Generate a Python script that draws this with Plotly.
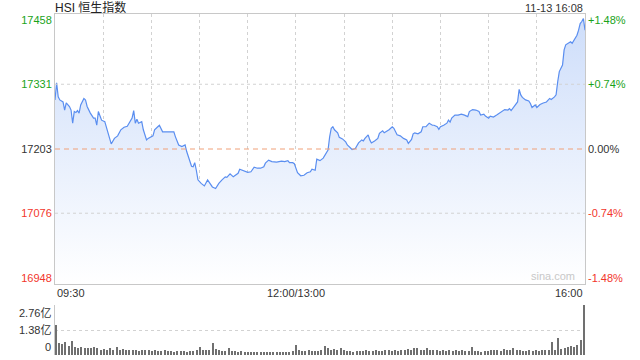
import plotly.graph_objects as go

# ---- data (trading minutes since 09:30, lunch break removed; 150 = 12:00/13:00, 330 = 16:00)
minutes = [0, 1, 2, 3, 5, 6, 7, 9, 10, 11, 12, 13, 14, 15, 16, 18, 19, 20, 22, 24, 25, 26, 27, 28, 29,
           31, 32, 34, 35, 37, 39, 41, 43, 45, 46, 48, 49, 50, 51, 52, 54, 55, 57, 58, 61, 62, 64, 65,
           67, 69, 71, 74, 75, 77, 79, 81, 82, 84, 85, 86, 87, 88, 89, 91, 93, 95, 96, 98, 100, 102,
           104, 106, 107, 109, 111, 112, 114, 115, 117, 120, 122, 124, 126, 128, 130, 131, 133, 135,
           138, 141, 143, 145, 146, 148, 149, 150, 151, 153, 155, 157, 159, 160, 162, 163, 165, 167,
           168, 170, 171, 172, 173, 174, 176, 177, 179, 181, 182, 184, 185, 187, 189, 191, 192, 193,
           195, 196, 197, 199, 201, 202, 204, 205, 207, 208, 210, 211, 213, 215, 217, 219, 220, 222,
           223, 224, 226, 228, 229, 231, 233, 235, 236, 238, 239, 240, 242, 244, 245, 246, 247, 249,
           251, 253, 255, 257, 258, 260, 262, 264, 265, 267, 268, 270, 271, 273, 275, 277, 279, 280,
           282, 283, 284, 286, 287, 288, 289, 290, 291, 293, 295, 296, 297, 299, 300, 302, 304, 306,
           308, 309, 311, 312, 313, 314, 316, 317, 318, 320, 321, 322, 324, 325, 326, 327, 328, 329, 330]
prices = [17300, 17334, 17306, 17300, 17296, 17280, 17294, 17287, 17280, 17254, 17277, 17275, 17279,
          17274, 17290, 17303, 17300, 17287, 17274, 17264, 17264, 17250, 17277, 17270, 17260, 17257,
          17247, 17227, 17213, 17224, 17229, 17241, 17246, 17248, 17254, 17264, 17279, 17254, 17262,
          17254, 17257, 17241, 17221, 17224, 17229, 17241, 17247, 17250, 17237, 17237, 17237, 17237,
          17227, 17211, 17208, 17211, 17198, 17181, 17169, 17168, 17176, 17161, 17142, 17135, 17130,
          17142, 17138, 17128, 17125, 17135, 17142, 17148, 17147, 17154, 17148, 17150, 17155, 17163,
          17160, 17157, 17158, 17167, 17165, 17165, 17168, 17175, 17181, 17178, 17177, 17179, 17178,
          17180, 17176, 17176, 17174, 17165, 17156, 17150, 17151, 17156, 17158, 17163, 17161, 17183,
          17180, 17185, 17191, 17201, 17227, 17244, 17247, 17241, 17235, 17226, 17223, 17217, 17211,
          17204, 17202, 17204, 17215, 17221, 17219, 17224, 17231, 17221, 17215, 17219, 17224, 17234,
          17239, 17235, 17239, 17241, 17247, 17244, 17231, 17229, 17224, 17221, 17214, 17222, 17233,
          17235, 17233, 17237, 17247, 17247, 17254, 17250, 17250, 17247, 17242, 17247, 17250, 17254,
          17260, 17256, 17264, 17270, 17270, 17272, 17270, 17267, 17277, 17281, 17280, 17277, 17270,
          17272, 17268, 17264, 17268, 17266, 17270, 17275, 17279, 17281, 17280, 17283, 17279, 17287,
          17293, 17296, 17321, 17310, 17305, 17300, 17298, 17293, 17285, 17290, 17285, 17291, 17294,
          17296, 17303, 17301, 17306, 17310, 17336, 17356, 17369, 17399, 17409, 17412, 17415, 17412,
          17422, 17428, 17438, 17451, 17455, 17461, 17438]

# volume every two trading minutes, in 亿
vol_minutes = list(range(0, 331, 2))
volumes = [1.66, 0.66, 0.62, 0.70, 0.50, 0.77, 0.45, 0.40, 0.42, 0.38, 0.40, 0.36, 0.42, 0.36, 0.30,
           0.34, 0.28, 0.38, 0.30, 0.44, 0.30, 0.32, 0.27, 0.30, 0.25, 0.30, 0.22, 0.28, 0.25, 0.30,
           0.22, 0.25, 0.20, 0.22, 0.25, 0.20, 0.22, 0.18, 0.20, 0.22, 0.20, 0.18, 0.20, 0.22, 0.28,
           0.45, 0.30, 0.26, 0.30, 0.66, 0.32, 0.25, 0.22, 0.20, 0.40, 0.22, 0.20, 0.18, 0.20, 0.17,
           0.18, 0.16, 0.18, 0.15, 0.17, 0.15, 0.16, 0.18, 0.15, 0.14, 0.16, 0.15, 0.18, 0.16, 0.20,
           0.55, 0.25, 0.22, 0.20, 0.26, 0.22, 0.20, 0.24, 0.30, 0.48, 0.36, 0.30, 0.32, 0.28, 0.36,
           0.30, 0.22, 0.20, 0.18, 0.22, 0.20, 0.22, 0.25, 0.20, 0.22, 0.28, 0.24, 0.22, 0.30, 0.25,
           0.20, 0.28, 0.22, 0.30, 0.26, 0.35, 0.28, 0.40, 0.36, 0.30, 0.28, 0.36, 0.30, 0.25, 0.30,
           0.22, 0.26, 0.20, 0.25, 0.22, 0.26, 0.20, 0.30, 0.24, 0.20, 0.45, 0.22, 0.20, 0.18, 0.22,
           0.20, 0.25, 0.28, 0.30, 0.24, 0.34, 0.30, 0.26, 0.36, 0.28, 0.30, 0.24, 0.20, 0.28, 0.22,
           0.26, 0.22, 0.30, 0.26, 0.30, 0.72, 0.28, 0.94, 0.35, 0.40, 0.45, 0.50, 0.42, 0.55, 0.83, 2.76]

prev_close = 17203
price_ticks = [16948, 17076, 17203, 17331, 17458]
pct_labels = ["-1.48%", "-0.74%", "0.00%", "+0.74%", "+1.48%"]
x_tick_vals = [0, 150, 330]
x_tick_labels = ["09:30", "12:00/13:00", "16:00"]
vol_tick_vals = [0, 1.38, 2.76]
vol_tick_labels = ["0", "1.38亿", "2.76亿"]
title_text = "HSI 恒生指数"
time_text = "11-13 16:08"

GREEN = "#1aa31a"
RED = "#f2362b"
DARK = "#333333"
GRID = "#d2d2d2"
BORDER = "#c8c8c8"
FONT = "Liberation Sans, Arial, Noto Sans CJK SC, sans-serif"

y_lo, y_hi = 16936.1, 17469.9


def col(v):
    if v > prev_close:
        return GREEN
    if v < prev_close:
        return RED
    return DARK


left_text = [f'<span style="color:{col(v)}">{v}</span>' for v in price_ticks]
right_text = [f'<span style="color:{col(v)}">{t}</span>' for v, t in zip(price_ticks, pct_labels)]

fig = go.Figure()
fig.add_trace(go.Scatter(
    x=minutes, y=prices, mode="lines", xaxis="x", yaxis="y",
    line=dict(color="#5a8ef0", width=1.2),
    fill="tozeroy",
    fillgradient=dict(type="vertical", start=y_lo, stop=y_hi,
                      colorscale=[[0, "rgba(255,255,255,1)"], [1, "rgba(205,221,250,1)"]]),
    hoverinfo="skip", showlegend=False))
fig.add_trace(go.Scatter(x=[0], y=[prev_close], mode="markers", marker=dict(opacity=0),
                         xaxis="x", yaxis="y3", hoverinfo="skip", showlegend=False))
fig.add_trace(go.Bar(x=vol_minutes, y=volumes, xaxis="x2", yaxis="y2", width=0.9,
                     marker=dict(color="#707070", line=dict(width=0)),
                     hoverinfo="skip", showlegend=False))

dom_main = [71 / 341, 1]
dom_vol = [0, 50 / 341]

fig.update_layout(
    template="none",
    width=640, height=360,
    margin=dict(l=55, r=55, t=14, b=5, autoexpand=False),
    paper_bgcolor="white", plot_bgcolor="white",
    font=dict(family=FONT, size=11, color=DARK),
    showlegend=False, bargap=0,
    xaxis=dict(domain=[0, 1], anchor="y", range=[0, 330], automargin=False,
               tickvals=list(range(0, 331, 30)), showticklabels=False, ticks="",
               showgrid=True, gridcolor=GRID, griddash="dot", gridwidth=1,
               zeroline=False, showline=True, mirror=True, linecolor=BORDER, linewidth=1),
    yaxis=dict(domain=dom_main, anchor="x", range=[y_lo, y_hi], automargin=False,
               tickvals=price_ticks, ticktext=left_text, ticks="",
               showgrid=False, zeroline=False, showline=True, mirror=True,
               linecolor=BORDER, linewidth=1, tickfont=dict(size=11)),
    yaxis3=dict(overlaying="y", anchor="x", side="right", range=[y_lo, y_hi], automargin=False,
                tickvals=price_ticks, ticktext=right_text, ticks="", ticklabelstandoff=2,
                showgrid=False, zeroline=False, showline=False, tickfont=dict(size=11)),
    xaxis2=dict(domain=[0, 1], anchor="y2", range=[-0.6, 330.6], showticklabels=False,
                automargin=False, ticks="", showgrid=False, zeroline=False, showline=False),
    yaxis2=dict(domain=dom_vol, anchor="x2", range=[0, 2.76], tickvals=[1.38, 2.76],
                automargin=False, showticklabels=False, ticks="", showgrid=True, gridcolor=GRID,
                griddash="dot", zeroline=False, showline=True, linecolor=BORDER, linewidth=1),
)

shapes = []
for v in price_ticks:
    if v == prev_close:
        shapes.append(dict(type="line", xref="x", yref="y", x0=0, x1=330, y0=v, y1=v,
                           line=dict(color="#f0a078", width=1, dash="5px,4px")))
    elif v not in (price_ticks[0], price_ticks[-1]):
        shapes.append(dict(type="line", xref="x", yref="y", x0=0, x1=330, y0=v, y1=v,
                           line=dict(color=GRID, width=1, dash="dot")))
fig.update_layout(shapes=shapes)

ann = [
    dict(text=title_text, xref="paper", yref="paper", x=0, y=1, xanchor="left", yanchor="bottom",
         showarrow=False, font=dict(size=12, color="#222222",
                                    family="Liberation Sans, Noto Sans CJK SC, sans-serif"),
         xshift=-2, yshift=-3),
    dict(text=time_text, xref="paper", yref="paper", x=1, y=1, xanchor="right", yanchor="bottom",
         showarrow=False, font=dict(size=11, color="#333333"), yshift=-2),
    dict(text="sina.com", xref="x", yref="y", x=325, y=y_lo, xanchor="right", yanchor="bottom",
         showarrow=False, font=dict(size=11, color="#c8c8c8")),
]
for v, t, xa in zip(x_tick_vals, x_tick_labels, ["left", "center", "right"]):
    ann.append(dict(text=t, xref="x", yref="paper", x=v, y=(355 - 293) / 341, xanchor=xa,
                    yanchor="middle", showarrow=False, font=dict(size=11, color=DARK)))
for v, t, ya in zip(vol_tick_vals, vol_tick_labels, ["bottom", "middle", "top"]):
    ann.append(dict(text=t, xref="paper", yref="y2", x=0, y=v, xanchor="right", yanchor=ya,
                    xshift=-2, showarrow=False, font=dict(size=11, color=DARK)))
fig.update_layout(annotations=ann)

fig.write_html("out.html", config={"displayModeBar": False},
               post_script="document.body.style.margin='0';document.body.style.overflow='hidden';")
